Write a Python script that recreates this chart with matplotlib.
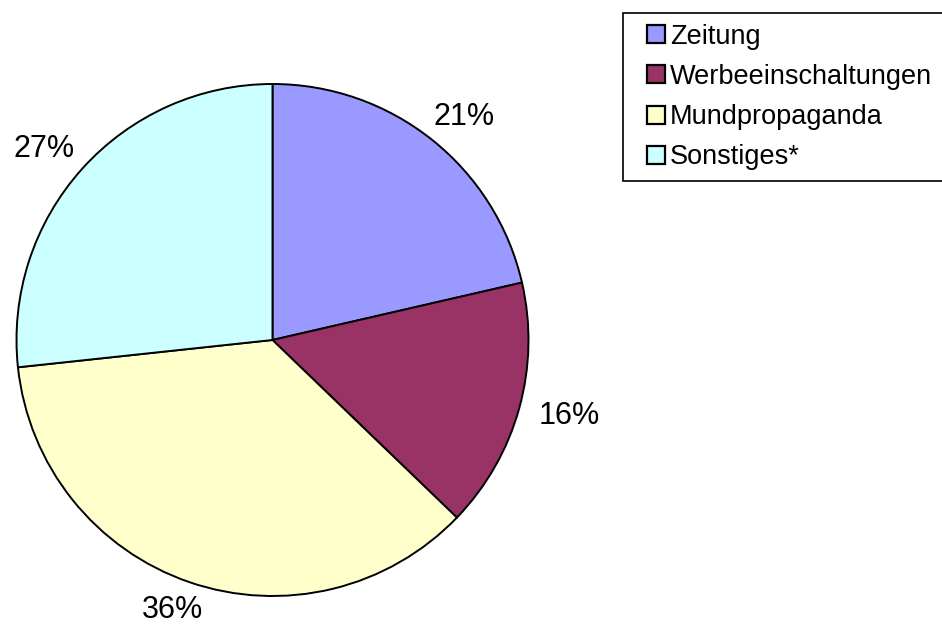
import numpy as np
import matplotlib.pyplot as plt
from matplotlib.patches import Patch, Rectangle

plt.rcParams['font.family'] = ['Liberation Sans', 'DejaVu Sans']

categories = ['Zeitung', 'Werbeeinschaltungen', 'Mundpropaganda', 'Sonstiges*']
shares = [21.4, 15.8, 36.1, 26.7]
colors = ['#9999FF', '#993366', '#FFFFCC', '#CCFFFF']

fig = plt.figure(figsize=(9.42, 6.3), dpi=100)

# pie axes: centre (272.5, 340) px, radius 256 px
ax = fig.add_axes([16.5 / 942, 34 / 630, 512 / 942, 512 / 630])
wedges, _, pct_texts = ax.pie(
    shares, colors=colors, startangle=90, counterclock=False, radius=1,
    autopct='%.0f%%', pctdistance=1.1,
    wedgeprops=dict(edgecolor='black', linewidth=1.4),
    textprops=dict(fontsize=22, color='black'))
ax.set_xlim(-1, 1)
ax.set_ylim(-1, 1)
ax.axis('off')

# push labels outward like Excel: keep the text box outside the pie
half_w, half_h = 0.121, 0.045
for w, t in zip(wedges, pct_texts):
    ang = np.deg2rad((w.theta1 + w.theta2) / 2)
    c, s = np.cos(ang), np.sin(ang)
    t.set_position((1.08 * c + half_w * c, 1.07 * s + half_h * s))
    t.set_ha('center')
    t.set_va('center')
    t.set_clip_on(False)

# legend frame (runs off the right edge)
fig.patches.append(Rectangle((623 / 942, 1 - 181 / 630), 330 / 942, 168 / 630,
                             transform=fig.transFigure, facecolor='white',
                             edgecolor='black', linewidth=1.2, zorder=0))
handles = [Patch(facecolor=col, edgecolor='black', linewidth=1.6) for col in colors]
fig.legend(handles, categories, loc='center left',
           bbox_to_anchor=(647 / 942, 1 - 97 / 630), frameon=False,
           fontsize=19.5, handlelength=0.65, handleheight=0.65,
           handletextpad=0.2, labelspacing=0.525, borderpad=0, borderaxespad=0)

plt.savefig('out.png', dpi=100)
plt.close()
